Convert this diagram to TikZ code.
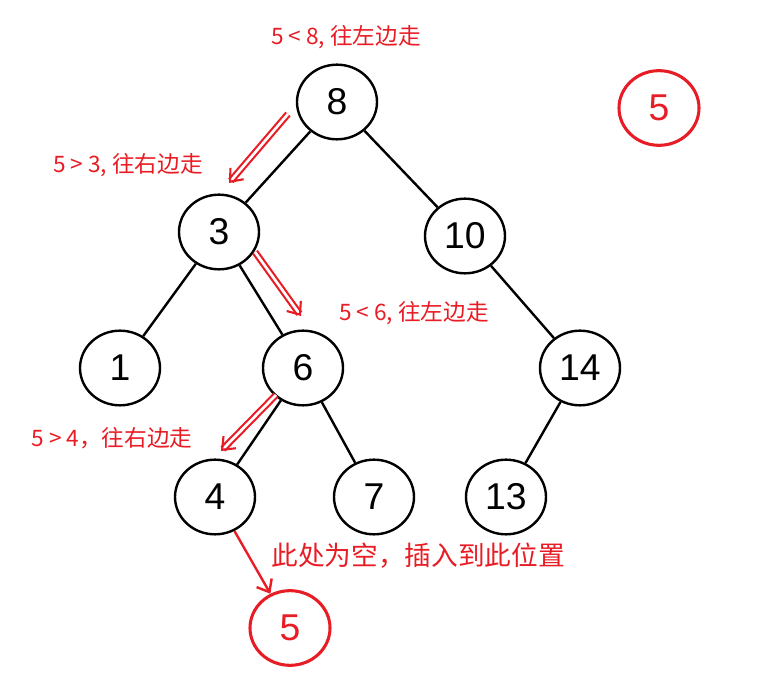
\documentclass[tikz,border=0pt]{standalone}
\usepackage{fontspec}
\setmainfont{Liberation Sans}
\newfontfamily\cjk{Noto Sans CJK SC}
\definecolor{hint}{RGB}{232,28,36}
\tikzset{
  bst/.style={draw, line width=1.8pt, ellipse, minimum width=60pt, minimum height=56pt, inner sep=0pt, font=\fontsize{28}{30}\selectfont},
  newkey/.style={bst, draw=hint, text=hint, line width=2.3pt},
  hinttext/.style={text=hint, font=\cjk\fontsize{17}{19}\selectfont},
  walk/.style={draw=hint, line width=1.6pt, double distance=2pt, -{Straight Barb[length=8pt,width=13pt]}},
}
\usetikzlibrary{shapes.geometric,arrows.meta}
\begin{document}
\begin{tikzpicture}[x=0.75pt,y=0.75pt,yscale=-1,xscale=1]
\useasboundingbox (0,0) rectangle (779,691);

% tree
\node[bst] (n8) at (337,102) {8};
\node[bst] (n3) at (219,232) {3};
\node[bst] (n10) at (465,236) {10};
\node[bst] (n1) at (120,368) {1};
\node[bst] (n6) at (303,368) {6};
\node[bst] (n14) at (580,368) {14};
\node[bst] (n4) at (215,497) {4};
\node[bst] (n7) at (374,497) {7};
\node[bst] (n13) at (506,497) {13};
\node[newkey] (n5) at (290,628) {5};
\node[newkey] (key) at (659,108) {5};

\draw[line width=1.8pt] (n8) -- (n3) (n8) -- (n10) (n3) -- (n1) (n3) -- (n6)
  (n10) -- (n14) (n6) -- (n4) (n6) -- (n7) (n14) -- (n13);

% search path
\coordinate (a1) at (288,114); \coordinate (b1) at (229,183);
\coordinate (a2) at (255,252); \coordinate (b2) at (301,316);
\coordinate (a3) at (276,395); \coordinate (b3) at (221,451);
\draw[walk] (a1) -- (b1);
\draw[walk] (a2) -- (b2);
\draw[walk] (a3) -- (b3);
\draw[draw=hint, line width=1.8pt, -{Straight Barb[length=8pt,width=13pt]}] (n4) -- (n5);

% Text Node
\node[hinttext] (t1) at (346,37) {5 < 8, 往左边走};
\node[hinttext] (t2) at (128,165) {5 > 3, 往右边走};
\node[hinttext] (t3) at (414,313) {5 < 6, 往左边走};
\node[hinttext] (t4) at (112,438) {5 > 4，往右边走};
\node[hinttext, font=\cjk\fontsize{20}{22}\selectfont] (t5) at (418,556) {此处为空，插入到此位置};
\end{tikzpicture}
\end{document}
